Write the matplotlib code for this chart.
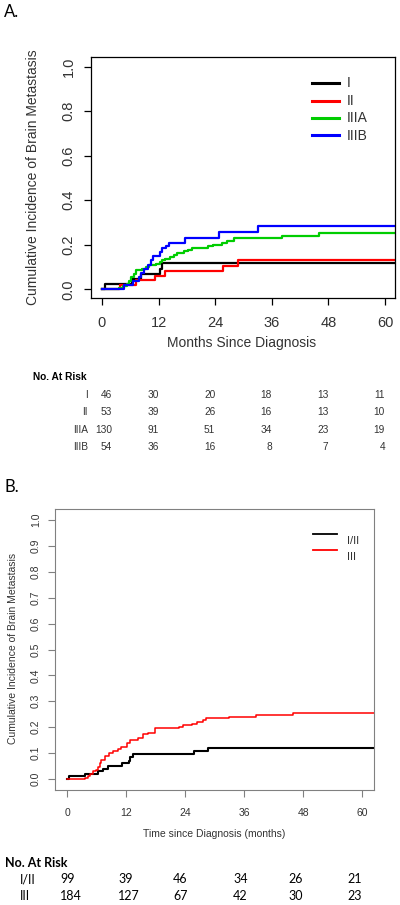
import matplotlib
matplotlib.use("Agg")
import matplotlib.pyplot as plt

# ---- panel A data: cumulative incidence by stage (months, cif)
a_names = ["I", "II", "IIIA", "IIIB"]
a_colors = ["#000000", "#FF0000", "#00CD00", "#0000FF"]

a_t_I = [0, 0.7, 6.3, 8.3, 12.3, 12.8]
a_y_I = [0, 0.022, 0.045, 0.068, 0.09, 0.118]

a_t_II = [0, 3.8, 7.3, 11.2, 13.4, 25.7, 28.8]
a_y_II = [0, 0.019, 0.042, 0.06, 0.084, 0.105, 0.13]

a_t_IIIA = [0, 3.5, 4.5, 5.2, 5.8, 6.2, 6.8, 7.3, 8.5, 9.3, 10.0, 11.5, 12.2,
            12.8, 13.4, 14.5, 15.3, 16.0, 17.3, 18.3, 19.0, 22.5, 23.5, 25.5,
            26.5, 28.0, 38.1, 45.9]
a_y_IIIA = [0, 0.008, 0.015, 0.023, 0.038, 0.054, 0.069, 0.085, 0.092, 0.1,
            0.108, 0.115, 0.123, 0.131, 0.138, 0.146, 0.154, 0.162, 0.17,
            0.178, 0.186, 0.193, 0.2, 0.208, 0.216, 0.229, 0.241, 0.252]

a_t_IIIB = [0, 4.6, 6.5, 7.8, 8.3, 9.0, 9.8, 10.3, 10.8, 12.2, 12.8, 13.6,
            14.1, 17.6, 24.7, 33.1]
a_y_IIIB = [0, 0.019, 0.037, 0.056, 0.074, 0.093, 0.111, 0.13, 0.148, 0.167,
            0.185, 0.195, 0.21, 0.232, 0.259, 0.284]

a_risk_times = [0, 12, 24, 36, 48, 60]
a_risk = {
    "I": [46, 30, 20, 18, 13, 11],
    "II": [53, 39, 26, 16, 13, 10],
    "IIIA": [130, 91, 51, 34, 23, 19],
    "IIIB": [54, 36, 16, 8, 7, 4],
}

# ---- panel B data
b_names = ["I/II", "III"]
b_colors = ["#000000", "#FF0000"]

b_t_12 = [0, 0.5, 3.7, 6.4, 7.3, 8.3, 11.1, 12.5, 12.9, 13.5, 25.8, 28.7]
b_y_12 = [0, 0.01, 0.02, 0.03, 0.04, 0.05, 0.06, 0.07, 0.085, 0.098, 0.108,
          0.121]

b_t_3 = [0, 3.7, 4.2, 4.7, 5.3, 5.8, 6.3, 6.7, 7.0, 7.8, 8.5, 9.3, 10.3, 11.0,
         12.2, 12.8, 14.5, 15.4, 16.4, 17.8, 22.7, 23.6, 25.5, 26.4, 27.6,
         28.2, 33.0, 38.5, 46.0]
b_y_3 = [0, 0.005, 0.01, 0.02, 0.03, 0.035, 0.045, 0.06, 0.075, 0.09, 0.1,
         0.108, 0.115, 0.125, 0.14, 0.152, 0.16, 0.172, 0.178, 0.195, 0.2,
         0.207, 0.212, 0.22, 0.227, 0.235, 0.24, 0.248, 0.256]

b_risk = {
    "I/II": [99, 39, 46, 34, 26, 21],
    "III": [184, 127, 67, 42, 30, 23],
}

W, H = 400, 905


def fx(x):
    return x / W


def fy(y):
    return 1 - y / H


fig = plt.figure(figsize=(4, 9.05), dpi=100)
R_FONT = ["Liberation Sans", "DejaVu Sans"]
C_FONT = ["Lato", "DejaVu Sans"]

fig.text(fx(4), fy(12), "A.", family=C_FONT, fontsize=12, va="center")
fig.text(fx(4), fy(487), "B.", family=C_FONT, fontsize=12, va="center")

# ---------------- Panel A
axA = fig.add_axes([fx(91), fy(298), (395 - 91) / W, (298 - 57) / H])
a_series = [(a_t_I, a_y_I), (a_t_II, a_y_II), (a_t_IIIA, a_y_IIIA),
            (a_t_IIIB, a_y_IIIB)]
for (t, y), c in zip(a_series, a_colors):
    axA.step(list(t) + [70], list(y) + [y[-1]], where="post", color=c, lw=1.6)
axA.set_xlim(-2.33, 62.1)
axA.set_ylim(-0.039, 1.044)
axA.set_xticks(a_risk_times)
axA.set_yticks([0, 0.2, 0.4, 0.6, 0.8, 1.0])
axA.set_yticklabels(["0.0", "0.2", "0.4", "0.6", "0.8", "1.0"], rotation=90,
                    va="center")
axA.tick_params(length=5, width=0.9, labelsize=10.5, colors="#000000",
                labelcolor="#333333")
axA.tick_params(axis="x", pad=8)
axA.tick_params(axis="y", pad=6)
for lab in axA.get_xticklabels() + axA.get_yticklabels():
    lab.set_family(R_FONT)
for s in axA.spines.values():
    s.set_linewidth(0.9)
fig.text(fx(242), fy(343), "Months Since Diagnosis", family=R_FONT,
         fontsize=10, color="#333333", ha="center", va="center")
fig.text(fx(33), fy(177), "Cumulative Incidence of Brain Metastasis",
         family=R_FONT, fontsize=10, color="#333333", ha="center",
         va="center", rotation=90)

# legend A
for i, (n, c) in enumerate(zip(a_names, a_colors)):
    yy = 83 + i * 17.5
    fig.add_artist(plt.Line2D([fx(312), fx(339)], [fy(yy), fy(yy)], color=c,
                              lw=2.2))
    fig.text(fx(347), fy(yy), n, family=R_FONT, fontsize=10, color="#333333",
             va="center")

# at risk A
fig.text(fx(33), fy(377), "No. At Risk", family=R_FONT, fontsize=7.3,
         weight="bold", va="center")
for i, n in enumerate(a_names):
    yy = 395 + i * 17.3
    fig.text(fx(88), fy(yy), n, family=R_FONT, fontsize=7.3, color="#333333",
             ha="right", va="center")
    for j, (tm, v) in enumerate(zip(a_risk_times, a_risk[n])):
        xx = 112 if j == 0 else 102 + tm * 283 / 60
        fig.text(fx(xx), fy(yy), str(v), family=R_FONT, fontsize=7.3,
                 color="#333333", ha="right", va="center")

# ---------------- Panel B
axB = fig.add_axes([fx(55), fy(790), (374 - 55) / W, (790 - 509) / H])
axB.step(list(b_t_12) + [70], list(b_y_12) + [b_y_12[-1]], where="post",
         color=b_colors[0], lw=1.5)
axB.step(list(b_t_3) + [70], list(b_y_3) + [b_y_3[-1]], where="post",
         color=b_colors[1], lw=1.1)
axB.set_xlim(-2.44, 62.4)
axB.set_ylim(-0.0425, 1.0425)
axB.set_xticks(a_risk_times)
b_yt = [k / 10 for k in range(11)]
axB.set_yticks(b_yt)
axB.set_yticklabels(["%.1f" % v for v in b_yt], rotation=90, va="center")
axB.tick_params(length=5, width=0.8, labelsize=7.5, colors="#808080",
                labelcolor="#333333")
axB.tick_params(axis="x", pad=8)
axB.tick_params(axis="y", pad=5)
for lab in axB.get_xticklabels() + axB.get_yticklabels():
    lab.set_family(R_FONT)
for s in axB.spines.values():
    s.set_color("#808080")
    s.set_linewidth(0.8)
fig.text(fx(214), fy(834), "Time since Diagnosis (months)", family=R_FONT,
         fontsize=7.5, color="#333333", ha="center", va="center")
fig.text(fx(13), fy(648), "Cumulative Incidence of Brain Metastasis",
         family=R_FONT, fontsize=7.5, color="#333333", ha="center",
         va="center", rotation=90)

# legend B
for i, (n, c) in enumerate(zip(b_names, b_colors)):
    yy = 534 + i * 16
    fig.add_artist(plt.Line2D([fx(313), fx(337)], [fy(yy), fy(yy)], color=c,
                              lw=1.3))
    fig.text(fx(347), fy(yy + 7), n, family=R_FONT, fontsize=8,
             color="#333333", va="center")

# at risk B
fig.text(fx(5), fy(863), "No. At Risk", family=C_FONT, fontsize=9,
         weight="bold", va="center")
b_cols = [60, 118, 173, 233, 288, 347]
for i, n in enumerate(b_names):
    yy = 879 + i * 17
    fig.text(fx(20), fy(yy), n, family=C_FONT, fontsize=9, va="center")
    for xx, v in zip(b_cols, b_risk[n]):
        fig.text(fx(xx), fy(yy), str(v), family=C_FONT, fontsize=9,
                 va="center")

fig.savefig("out.png", dpi=100)
